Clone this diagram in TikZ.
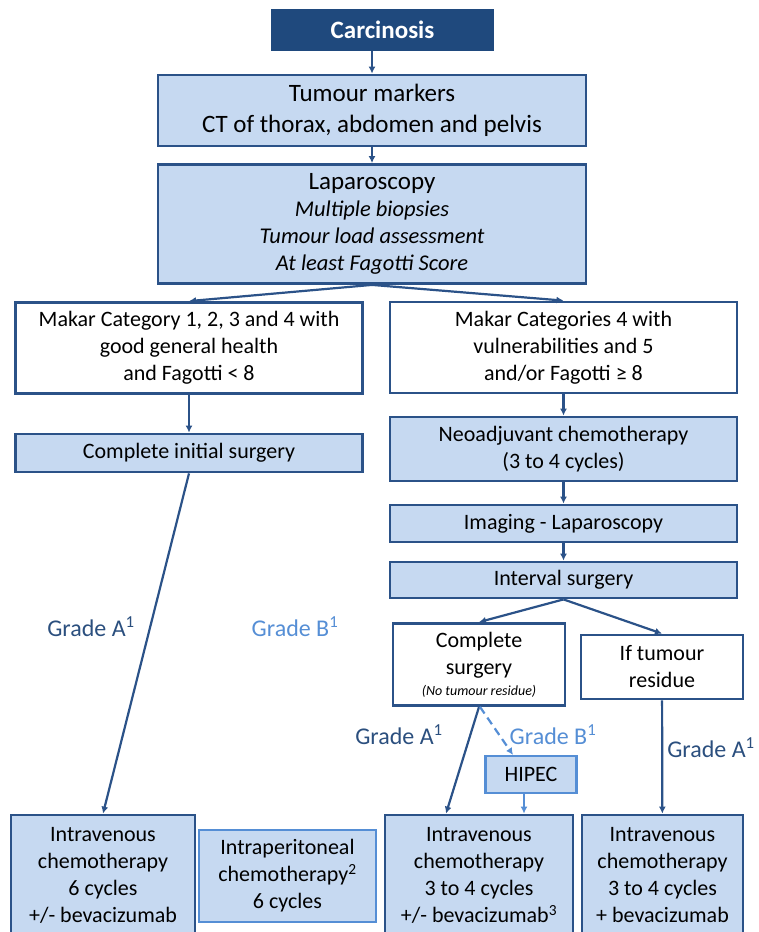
\documentclass[tikz,border=0pt]{standalone}
\usepackage{fontspec}
\setmainfont{Carlito}
\usetikzlibrary{arrows.meta}
\definecolor{navy}{HTML}{1F497D}
\definecolor{boxline}{HTML}{2B5288}
\definecolor{boxfill}{HTML}{C6D9F1}
\definecolor{lightline}{HTML}{558ED5}
\definecolor{gradeA}{HTML}{2B4F7E}

\begin{document}
\begin{tikzpicture}[x=1pt,y=-1pt,
  box/.style={draw=boxline,line width=2.8pt,fill=boxfill,inner sep=0pt,align=center,font=\fontsize{22}{27}\selectfont},
  bigbox/.style={box,font=\fontsize{25}{31}\selectfont},
  whitebox/.style={box,fill=white},
  lightbox/.style={box,draw=lightline,line width=2.2pt},
  arr/.style={draw=boxline,line width=2.2pt,-{Latex[length=7pt,width=7pt]}},
  lightarr/.style={arr,draw=lightline},
  grade/.style={text=gradeA,font=\fontsize{24}{28}\selectfont}]
\useasboundingbox (0,0) rectangle (758,932);

% top of the chart
\node[bigbox,fill=navy,draw=navy,text=white,font=\fontsize{25}{29}\selectfont\bfseries,
  minimum width=221pt,minimum height=40pt] (carc) at (382.5,30) {Carcinosis};
\node[bigbox,minimum width=428pt,minimum height=71pt] (markers) at (372,110.5)
  {Tumour markers\\CT of thorax, abdomen and pelvis};
\node[bigbox,font=\fontsize{25}{27}\selectfont,minimum width=428pt,minimum height=119pt] (lap) at (372,224)
  {Laparoscopy\\{\fontsize{22.5}{27}\selectfont\itshape Multiple biopsies}\\
   {\fontsize{22.5}{27}\selectfont\itshape Tumour load assessment}\\
   {\fontsize{22.5}{27}\selectfont\itshape At least Fagotti Score}};

% left branch
\node[whitebox,minimum width=347pt,minimum height=91pt] (makarL) at (189,348)
  {Makar Category 1, 2, 3 and 4 with\\good general health\\and Fagotti < 8};
\node[box,minimum width=347pt,minimum height=38pt] (initial) at (189,453) {Complete initial surgery};

% right branch
\node[whitebox,minimum width=347pt,minimum height=91pt] (makarR) at (563.5,347.5)
  {Makar Categories 4 with\\vulnerabilities and 5\\and/or Fagotti ≥ 8};
\node[box,minimum width=347pt,minimum height=64pt] (neo) at (563.5,449)
  {Neoadjuvant chemotherapy\\(3 to 4 cycles)};
\node[box,minimum width=347pt,minimum height=37pt] (imaging) at (563.5,523.5) {Imaging - Laparoscopy};
\node[box,minimum width=347pt,minimum height=36pt] (interval) at (563.5,580) {Interval surgery};
\node[whitebox,minimum width=172pt,minimum height=82pt] (complete) at (479,664.5)
  {Complete\\surgery\\[-6pt]{\fontsize{14}{16}\selectfont\itshape (No tumour residue)}};
\node[whitebox,minimum width=162pt,minimum height=64pt] (residue) at (662,667) {If tumour\\residue};
\node[lightbox,minimum width=91pt,minimum height=37pt] (hipec) at (531,774.5) {HIPEC};

% bottom row
\node[box,minimum width=184pt,minimum height=121pt] (ivL) at (103,875.5)
  {Intravenous\\chemotherapy\\6 cycles\\+/- bevacizumab};
\node[lightbox,minimum width=177pt,minimum height=92pt] (ip) at (287.5,876)
  {Intraperitoneal\\chemotherapy\textsuperscript{2}\\6 cycles};
\node[box,minimum width=188pt,minimum height=121pt] (ivM) at (479,875.5)
  {Intravenous\\chemotherapy\\3 to 4 cycles\\+/- bevacizumab\textsuperscript{3}};
\node[box,minimum width=161pt,minimum height=121pt] (ivR) at (662.5,875.5)
  {Intravenous\\chemotherapy\\3 to 4 cycles\\+ bevacizumab};

% grades
\node[grade] (gAL) at (91,627) {Grade A\textsuperscript{1}};
\node[grade,text=lightline] (gBL) at (295,627) {Grade B\textsuperscript{1}};
\node[grade] (gAM) at (399,735) {Grade A\textsuperscript{1}};
\node[grade,text=lightline] (gBM) at (553,735) {Grade B\textsuperscript{1}};
\node[grade] (gAR) at (711,748) {Grade A\textsuperscript{1}};

% connectors
\draw[arr] (carc.south -| markers.north) -- (markers.north);
\draw[arr] (markers) -- (lap);
\draw[arr] (lap.south) -- (makarL.north);
\draw[arr] (lap.south) -- (makarR.north);
\draw[arr] (makarL) -- (initial);
\draw[arr] (initial.south) -- (ivL.north);
\draw[arr] (makarR) -- (neo);
\draw[arr] (neo) -- (imaging);
\draw[arr] (imaging) -- (interval);
\draw[arr] (interval.south) -- (complete.north);
\draw[arr] (interval.south) -- (residue.north);
\draw[arr] (complete.south) -- ([xshift=-33pt]ivM.north);
\draw[lightarr,dashed,dash pattern=on 8pt off 5pt] ([xshift=1pt]complete.south) -- ([xshift=-18pt]hipec.north);
\draw[lightarr] ([xshift=-7pt]hipec.south) -- ([xshift=-7pt]hipec.south |- ivM.north);
\draw[arr] (residue) -- (ivR);
\end{tikzpicture}
\end{document}
